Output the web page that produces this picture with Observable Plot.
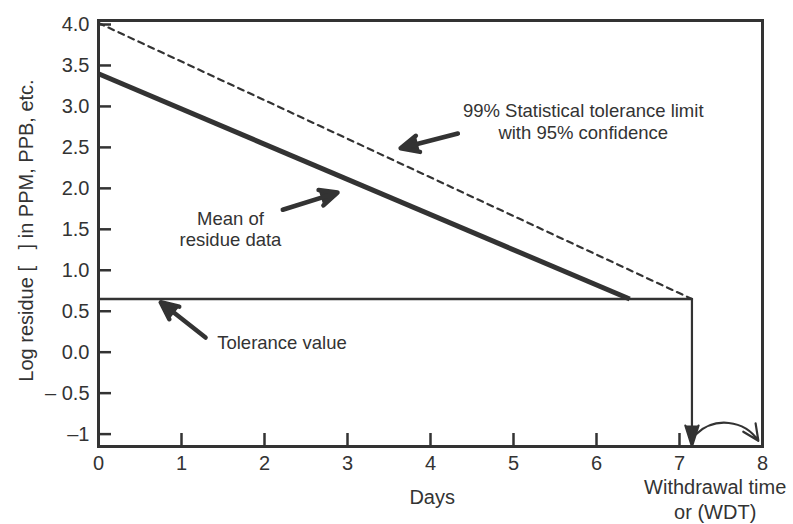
<!DOCTYPE html>
<html>
<head>
<meta charset="utf-8">
<script src="https://cdn.jsdelivr.net/npm/d3@7"></script>
<script src="https://cdn.jsdelivr.net/npm/@observablehq/plot@0.6"></script>
<style>
  html, body { margin: 0; padding: 0; background: #fff; }
  #chart { width: 793px; height: 524px; }
</style>
</head>
<body>
<div id="chart"></div>
<script>
// ---- data ----
const xTicks = [0, 1, 2, 3, 4, 5, 6, 7, 8];
const yTicks = [4.0, 3.5, 3.0, 2.5, 2.0, 1.5, 1.0, 0.5, 0.0, -0.5, -1];
const yTickLabels = ["4.0", "3.5", "3.0", "2.5", "2.0", "1.5", "1.0", "0.5", "0.0", "\u2013 0.5", "\u20131"];

const meanDays = [0, 6.4];
const meanLog = [3.35, 0.6];

const limitDays = [0, 7.15];
const limitLog = [3.97, 0.6];

const toleranceDays = [0, 7.15];
const toleranceLog = [0.6, 0.6];

const wdtDay = 7.15;
const wdtFrom = 0.6;
const wdtTo = -1.2;

// curved arrow to the right of the WDT
const curveFrom = [7.2, -1.05];
const curveTo = [7.95, -1.13];

// annotation labels
const noteTexts = ["99% Statistical tolerance limit\nwith 95% confidence", "Mean of\nresidue data"];
const noteX = [5.84, 1.59];
const noteY = [2.77, 1.46];

const tolText = ["Tolerance value"];
const tolX = [1.43];
const tolY = [0.06];

// annotation arrows
const arrowX1 = [4.33, 2.22, 1.29];
const arrowY1 = [2.62, 1.69, 0.13];
const arrowX2 = [3.64, 2.88, 0.75];
const arrowY2 = [2.44, 1.90, 0.56];

const xLabel = "Days";
const xLabelAt = 4.02;
const wdtLabel = "Withdrawal time\nor (WDT)";
const wdtLabelAt = 7.43;
const yLabel = "Log residue [   ] in PPM, PPB, etc.";

// ---- build tables ----
const ink = "#333";
const fs = 18.5;
const fsAxis = 20;
const yLabelMap = new Map(yTicks.map((d, i) => [d, yTickLabels[i]]));
const mean = meanDays.map((d, i) => ({x: d, y: meanLog[i]}));
const limit = limitDays.map((d, i) => ({x: d, y: limitLog[i]}));
const tol = toleranceDays.map((d, i) => ({x: d, y: toleranceLog[i]}));
const notes = noteTexts.map((t, i) => ({t, x: noteX[i], y: noteY[i]}));
const tols = tolText.map((t, i) => ({t, x: tolX[i], y: tolY[i]}));
const arrows = arrowX1.map((d, i) => ({x1: d, y1: arrowY1[i], x2: arrowX2[i], y2: arrowY2[i]}));

const chart = Plot.plot({
  width: 793,
  height: 524,
  marginTop: 20,
  marginRight: 31,
  marginBottom: 78,
  marginLeft: 98,
  style: {fontFamily: "'Liberation Sans', Arial, Helvetica, sans-serif", fontSize: fsAxis + "px", color: ink, background: "#fff"},
  x: {domain: [0, 8]},
  y: {domain: [-1.2, 4]},
  marks: [
    Plot.axisX(xTicks, {tickSize: -13, tickPadding: 22, stroke: ink, strokeWidth: 2.5, fontSize: fsAxis, fill: ink, label: null}),
    Plot.axisY(yTicks, {tickSize: -13, tickPadding: 22, stroke: ink, strokeWidth: 2.5, fontSize: fsAxis, fill: ink, dy: 4, tickFormat: d => yLabelMap.get(d), label: null}),
    Plot.line(limit, {x: "x", y: "y", stroke: ink, strokeWidth: 2.2, strokeDasharray: "6,5"}),
    Plot.line(tol, {x: "x", y: "y", stroke: ink, strokeWidth: 2.5}),
    Plot.line(mean, {x: "x", y: "y", stroke: ink, strokeWidth: 5, strokeLinecap: "butt"}),
    Plot.arrow([{x1: wdtDay, y1: wdtFrom, x2: wdtDay, y2: wdtTo}], {x1: "x1", y1: "y1", x2: "x2", y2: "y2", stroke: ink, fill: ink, strokeWidth: 2.2, headLength: 15, headAngle: 35}),
    Plot.arrow([{x1: curveFrom[0], y1: curveFrom[1], x2: curveTo[0], y2: curveTo[1]}], {x1: "x1", y1: "y1", x2: "x2", y2: "y2", bend: 50, stroke: ink, strokeWidth: 2.2, headLength: 12, headAngle: 50}),
    Plot.arrow(arrows, {x1: "x1", y1: "y1", x2: "x2", y2: "y2", stroke: ink, fill: ink, strokeWidth: 4.5, headLength: 16, headAngle: 50}),
    Plot.text(notes, {x: "x", y: "y", text: "t", fill: ink, fontSize: fs, lineHeight: 1.15}),
    Plot.text(tols, {x: "x", y: "y", text: "t", fill: ink, fontSize: fs, textAnchor: "start"}),
    Plot.text([xLabel], {x: xLabelAt, frameAnchor: "bottom", lineAnchor: "middle", dy: 51, text: d => d, fill: ink, fontSize: fsAxis}),
    Plot.text([wdtLabel], {x: wdtLabelAt, frameAnchor: "bottom", lineAnchor: "middle", dy: 52, text: d => d, fill: ink, fontSize: fsAxis, lineHeight: 1.25}),
    Plot.text([yLabel], {frameAnchor: "left", textAnchor: "middle", lineAnchor: "middle", rotate: -90, dx: -72, dy: -3, text: d => d, fill: ink, fontSize: fsAxis}),
    Plot.frame({stroke: ink, strokeWidth: 3})
  ]
});
document.getElementById("chart").appendChild(chart);
</script>
</body>
</html>
